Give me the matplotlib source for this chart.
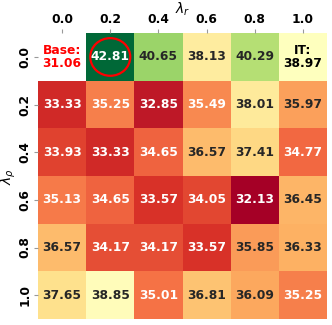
import matplotlib
matplotlib.use("Agg")
import matplotlib.pyplot as plt
import matplotlib.colors as mcolors
from matplotlib.patches import Ellipse
import numpy as np

# grid values (rows: lambda_rho, cols: lambda_r)
lam_r = ["0.0", "0.2", "0.4", "0.6", "0.8", "1.0"]
lam_rho = ["0.0", "0.2", "0.4", "0.6", "0.8", "1.0"]
scores = np.array([
    [31.06, 42.81, 40.65, 38.13, 40.29, 38.97],
    [33.33, 35.25, 32.85, 35.49, 38.01, 35.97],
    [33.93, 33.33, 34.65, 36.57, 37.41, 34.77],
    [35.13, 34.65, 33.57, 34.05, 32.13, 36.45],
    [36.57, 34.17, 34.17, 33.57, 35.85, 36.33],
    [37.65, 38.85, 35.01, 36.81, 36.09, 35.25],
])
base_val = scores[0, 0]
it_val = scores[0, 5]
best = (0, 1)

masked = np.ma.masked_array(scores, mask=np.zeros_like(scores, dtype=bool))
masked.mask[0, 0] = True

vals = scores.copy()
vals[0, 0] = np.nan
norm = mcolors.TwoSlopeNorm(vmin=np.nanmin(vals), vcenter=it_val, vmax=np.nanmax(vals))
cmap = plt.get_cmap("RdYlGn")

fig = plt.figure(figsize=(3.32, 3.25), dpi=100)
ax = fig.add_axes([0.1145, 0.0185, 0.8705, 0.8795])
ax.pcolormesh(masked, cmap=cmap, norm=norm)
ax.set_xlim(0, 6)
ax.set_ylim(6, 0)

def lum(c):
    rgb = np.array(mcolors.to_rgb(c))
    rgb = np.where(rgb <= .03928, rgb / 12.92, ((rgb + .055) / 1.055) ** 2.4)
    return rgb.dot([.2126, .7152, .0722])

fs = 8.8
for i in range(6):
    for j in range(6):
        if (i, j) == (0, 0):
            ax.text(j + 0.5, i + 0.5, "Base:\n%.2f" % base_val, ha="center", va="center",
                    color="red", fontsize=fs, fontweight="bold", linespacing=1.0)
            continue
        if (i, j) == (0, 5):
            ax.text(j + 0.5, i + 0.5, "IT:\n%.2f" % it_val, ha="center", va="center",
                    color="black", fontsize=fs, fontweight="bold", linespacing=1.0)
            continue
        c = cmap(norm(scores[i, j]))
        tc = ".15" if lum(c) > .408 else "white"
        ax.text(j + 0.5, i + 0.5, "%.2f" % scores[i, j], ha="center", va="center",
                color=tc, fontsize=fs, fontweight="bold")

ax.add_patch(Ellipse((best[1] + 0.5, best[0] + 0.5), 0.83, 0.79, fill=False,
                     edgecolor="red", linewidth=1.6))

ax.xaxis.tick_top()
ax.xaxis.set_label_position("top")
ax.set_xticks(np.arange(6) + 0.5)
ax.set_xticklabels(lam_r, fontweight="bold", fontsize=fs)
ax.set_yticks(np.arange(6) + 0.5)
ax.set_yticklabels(lam_rho, fontweight="bold", fontsize=fs, rotation=90, va="center")
ax.tick_params(length=3, color="0.6", width=0.8, pad=2)
ax.set_xlabel(r"$\lambda_r$", fontsize=10, labelpad=0)
ax.set_ylabel(r"$\lambda_\rho$", fontsize=10)
ax.yaxis.set_label_coords(-0.068, 0.5)
for s in ax.spines.values():
    s.set_visible(False)

fig.savefig("out.png", dpi=100)
